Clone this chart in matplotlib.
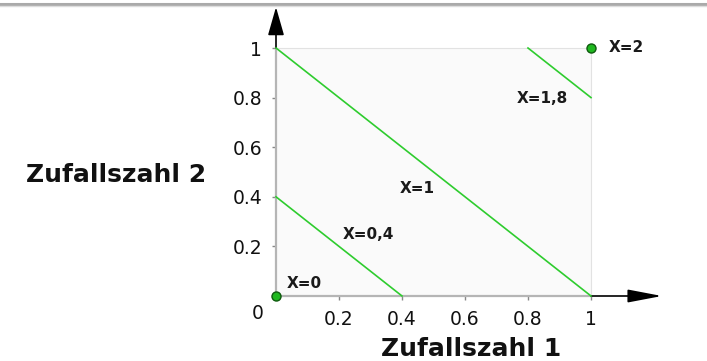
import matplotlib
matplotlib.use('Agg')
import matplotlib.pyplot as plt
from matplotlib.lines import Line2D

# data
tick_values = [0.2, 0.4, 0.6, 0.8, 1.0]
tick_labels = ['0.2', '0.4', '0.6', '0.8', '1']

# level lines x1 + x2 = const, given by their end points
line_x = [[0.0, 0.4], [0.0, 1.0], [0.8, 1.0]]
line_y = [[0.4, 0.0], [1.0, 0.0], [1.0, 0.8]]

# single points X=0 and X=2
point_x = [0.0, 1.0]
point_y = [0.0, 1.0]

# text labels and their anchor (left, center)
label_texts = ['X=0', 'X=0,4', 'X=1', 'X=1,8', 'X=2']
label_x = [0.035, 0.213, 0.394, 0.765, 1.057]
label_y = [0.052, 0.246, 0.435, 0.798, 1.004]

green = '#2ecc2e'

fig = plt.figure(figsize=(7.07, 3.61), dpi=100)
fig.patch.set_facecolor('white')

# grey rule at the very top of the picture
fig.add_artist(Line2D([0, 1], [0.990, 0.990], transform=fig.transFigure,
                      color='#aaaaaa', lw=2.2))
fig.add_artist(Line2D([0, 1], [0.983, 0.983], transform=fig.transFigure,
                      color='#dddddd', lw=1))

ax = fig.add_axes([276/707, 65/361, 315/707, 248/361])
ax.set_xlim(0, 1)
ax.set_ylim(0, 1)
ax.set_facecolor('#fafafa')
ax.spines['left'].set_color('#b5b5b5')
ax.spines['bottom'].set_color('#b5b5b5')
ax.spines['left'].set_linewidth(1.6)
ax.spines['bottom'].set_linewidth(1.6)
ax.spines['top'].set_color('#e2e2e2')
ax.spines['right'].set_color('#e2e2e2')

ax.set_xticks(tick_values)
ax.set_xticklabels(tick_labels)
ax.set_yticks(tick_values)
ax.set_yticklabels(tick_labels)
ax.tick_params(length=3, width=1, color='#888888', labelsize=13.5, pad=7,
               labelcolor='#111111')
ax.text(-0.057, -0.069, '0', ha='center', va='center', fontsize=13.5,
        color='#111111')

# axis arrows beyond the unit square
ax.annotate('', xy=(1.225, 0), xytext=(1, 0), annotation_clip=False,
            arrowprops=dict(arrowstyle='-|>,head_length=2.1,head_width=0.4',
                            mutation_scale=10, color='black', lw=1.2,
                            shrinkA=0, shrinkB=0))
ax.annotate('', xy=(0, 1.165), xytext=(0, 1), annotation_clip=False,
            arrowprops=dict(arrowstyle='-|>,head_length=1.75,head_width=0.5',
                            mutation_scale=10, color='black', lw=1.2,
                            shrinkA=0, shrinkB=0))

for xs, ys in zip(line_x, line_y):
    ax.plot(xs, ys, color=green, lw=1.2, clip_on=False, zorder=3)

ax.plot(point_x, point_y, 'o', ms=6.5, mfc='#1fb81f', mec='#0e5a0e', mew=1,
        clip_on=False, zorder=5)

for t, x, y in zip(label_texts, label_x, label_y):
    ax.text(x, y, t, ha='left', va='center', fontsize=11, fontweight='bold',
            color='#1a1a1a', clip_on=False)

ax.set_xlabel('Zufallszahl 1', fontsize=18, fontweight='bold', color='#111111',
              va='top')
ax.xaxis.set_label_coords(0.619, -0.165)
ax.set_ylabel('Zufallszahl 2', fontsize=18, fontweight='bold', color='#111111',
              rotation=0, ha='center', va='center')
ax.yaxis.set_label_coords(-0.508, 0.488)

fig.savefig('out.png', dpi=100)
